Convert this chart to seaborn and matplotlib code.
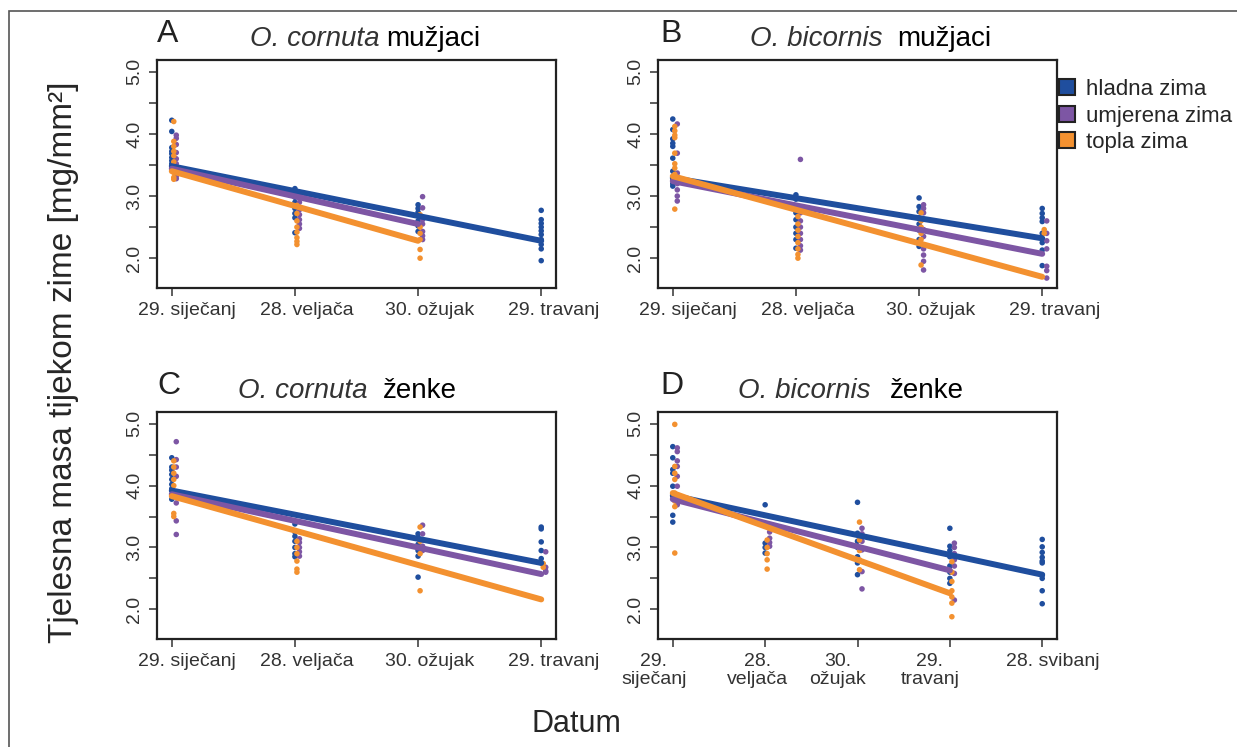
import numpy as np
import pandas as pd
import matplotlib
matplotlib.use("Agg")
import matplotlib.pyplot as plt
import matplotlib.transforms as mtransforms
from matplotlib.lines import Line2D
from matplotlib.patches import Rectangle
import seaborn as sns

groups = ["hladna zima", "umjerena zima", "topla zima"]
colors = ["#1f4e9e", "#7d56a4", "#f39130"]

dates_abc = ["29. siječanj", "28. veljača", "30. ožujak", "29. travanj"]
dates_d = ["29.\nsiječanj", "28.\nveljača", "30.\nožujak", "29.\ntravanj", "28. svibanj"]

# A - O. cornuta mužjaci (one list per date)
a_hladna = [
    [4.22, 4.04, 3.78, 3.72, 3.68, 3.62, 3.57, 3.52, 3.48, 3.45],
    [3.12, 3.05, 2.98, 2.90, 2.80, 2.72, 2.65, 2.41],
    [2.86, 2.80, 2.74, 2.68, 2.60, 2.52, 2.43],
    [2.77, 2.62, 2.56, 2.50, 2.44, 2.38, 2.30, 2.22, 2.15, 1.96],
]
a_umjerena = [
    [3.98, 3.93, 3.83, 3.70, 3.60, 3.52, 3.45, 3.38, 3.32, 3.28],
    [3.00, 2.90, 2.78, 2.70, 2.62, 2.55, 2.48],
    [2.99, 2.81, 2.62, 2.55, 2.43, 2.36, 2.30],
]
a_topla = [
    [4.20, 3.88, 3.80, 3.72, 3.65, 3.55, 3.45, 3.38, 3.30, 3.27],
    [2.85, 2.72, 2.60, 2.50, 2.42, 2.33, 2.27, 2.22],
    [2.70, 2.50, 2.40, 2.30, 2.14, 2.00],
]
a_fits = [[3.48, 2.28], [3.44, 2.55], [3.40, 2.28]]

# B - O. bicornis mužjaci
b_hladna = [
    [4.24, 4.07, 3.92, 3.85, 3.80, 3.61, 3.40, 3.26, 3.20, 3.16],
    [3.02, 2.95, 2.73, 2.62, 2.50, 2.40, 2.30, 2.16],
    [2.97, 2.83, 2.75, 2.65, 2.55, 2.45, 2.30, 2.19],
    [2.80, 2.72, 2.65, 2.59, 2.40, 2.25, 2.13, 1.88],
]
b_umjerena = [
    [4.16, 3.69, 3.37, 3.30, 3.20, 3.10, 3.00, 2.92],
    [3.59, 2.73, 2.60, 2.50, 2.40, 2.30, 2.20, 2.13],
    [2.86, 2.80, 2.73, 2.46, 2.35, 2.15, 2.05, 1.95, 1.81],
    [2.60, 2.40, 2.28, 2.15, 1.87, 1.80, 1.68],
]
b_topla = [
    [4.12, 4.05, 3.98, 3.94, 3.69, 3.52, 3.45, 3.35, 3.28, 2.79],
    [2.67, 2.55, 2.45, 2.35, 2.25, 2.15, 2.06, 2.00],
    [2.73, 2.60, 2.50, 2.40, 2.30, 1.89],
    [2.46, 2.40],
]
b_fits = [[3.29, 2.32], [3.24, 2.07], [3.32, 1.70]]

# C - O. cornuta ženke
c_hladna = [
    [4.45, 4.30, 4.25, 4.18, 4.10, 4.02, 3.95, 3.85, 3.78],
    [3.38, 3.25, 3.18, 3.10, 3.00, 2.90, 2.85],
    [3.22, 3.15, 3.05, 2.95, 2.86, 2.52],
    [3.33, 3.30, 3.09, 2.95, 2.82, 2.75],
]
c_umjerena = [
    [4.71, 4.42, 4.30, 4.15, 3.90, 3.72, 3.43, 3.21],
    [3.14, 3.08, 3.00, 2.93, 2.86],
    [3.36, 3.22, 3.12, 3.02, 2.95],
    [2.93, 2.68, 2.62, 2.60],
]
c_topla = [
    [4.40, 4.30, 4.20, 4.10, 4.00, 3.90, 3.55, 3.50],
    [3.10, 3.00, 2.90, 2.78, 2.65, 2.60],
    [3.33, 3.10, 3.00, 2.90, 2.30],
    [2.74, 2.68],
]
c_fits = [[3.92, 2.75], [3.86, 2.57], [3.83, 2.16]]

# D - O. bicornis ženke
d_hladna = [
    [4.63, 4.45, 4.26, 4.20, 3.99, 3.83, 3.52, 3.41],
    [3.69, 3.07, 3.00, 2.91],
    [3.73, 3.23, 3.10, 3.00, 2.85, 2.75, 2.56],
    [3.31, 3.02, 2.95, 2.85, 2.70, 2.60, 2.50, 2.42],
    [3.13, 3.01, 2.92, 2.84, 2.78, 2.75, 2.55, 2.50, 2.30, 2.09],
]
d_umjerena = [
    [4.61, 4.55, 4.40, 4.31, 4.15, 3.99, 3.85, 3.69],
    [3.34, 3.25, 3.15, 3.08, 3.02],
    [3.31, 3.22, 3.10, 2.96, 2.61, 2.33],
    [3.07, 3.00, 2.90, 2.80, 2.70, 2.58, 2.15],
]
d_topla = [
    [4.99, 4.31, 4.20, 4.10, 3.88, 3.75, 3.66, 2.91],
    [3.12, 3.00, 2.90, 2.80, 2.65],
    [3.41, 3.12, 2.95, 2.80, 2.64],
    [2.77, 2.60, 2.45, 2.30, 2.20, 2.10, 1.88],
]
d_fits = [[3.84, 2.56], [3.78, 2.63], [3.88, 2.26]]


sns.set_style("ticks")
plt.rcParams['font.family'] = ['Liberation Sans', 'DejaVu Sans']

W, H = 1237, 747
fig = plt.figure(figsize=(W / 100, H / 100), dpi=100)
renderer = fig.canvas.get_renderer()

# small horizontal offset of each group's dots, in pixels
dot_shift = {"hladna zima": 0.0, "umjerena zima": 4.5, "topla zima": 2.0}


def to_frames(series, fits):
    pts, lines = [], []
    for g, s, f in zip(groups, series, fits):
        for d, vals in enumerate(s):
            for v in vals:
                pts.append((g, d, v))
        lines.append((g, 0, f[0]))
        lines.append((g, len(s) - 1, f[1]))
    cols = ["grupa", "datum", "masa"]
    return pd.DataFrame(pts, columns=cols), pd.DataFrame(lines, columns=cols)


def panel(rect, series, fits, labels, label_shift):
    ax = fig.add_axes(rect)
    n = len(labels)
    xmin, xmax = -0.04 * (n - 1), (n - 1) * 1.04
    per_px = (xmax - xmin) / (rect[2] * W)

    pts, lines = to_frames(series, fits)
    pts["x"] = pts["datum"] + pts["grupa"].map(dot_shift) * per_px

    sns.scatterplot(data=pts, x="x", y="masa", hue="grupa", hue_order=groups,
                    palette=colors, s=16, linewidth=0, legend=False, ax=ax)
    sns.lineplot(data=lines, x="datum", y="masa", hue="grupa", hue_order=groups,
                 palette=colors, lw=4.3, estimator=None, legend=False, ax=ax)

    ax.set_xlim(xmin, xmax)
    ax.set_ylim(1.52, 5.19)
    ax.set_xticks(range(n))
    ax.set_xticklabels(labels, fontsize=14, color="#333333", linespacing=1.05)
    yt = np.arange(2.0, 5.01, 0.5)
    ax.set_yticks(yt)
    ax.set_yticklabels([f"{v:.1f}" if v == int(v) else "" for v in yt],
                       fontsize=14, color="#333333")
    plt.setp(ax.get_yticklabels(), rotation=90, va="center")
    ax.tick_params(direction="out", length=6, width=1.1, color="#333333", pad=4)
    for sp in ax.spines.values():
        sp.set_visible(True)
        sp.set_linewidth(1.6)
        sp.set_color("#222222")
    ax.set_xlabel("")
    ax.set_ylabel("")

    for lab, dx in zip(ax.get_xticklabels(), label_shift):
        off = mtransforms.ScaledTranslation(dx / 100, 0, fig.dpi_scale_trans)
        lab.set_transform(lab.get_transform() + off)
    return ax


def fy(py):
    return 1 - py / H


def title(x_px, y_px, species, sex, gap_px):
    t1 = fig.text(x_px / W, fy(y_px), species, fontsize=20, style="italic",
                  color="#333333", ha="left", va="baseline")
    w1 = t1.get_window_extent(renderer).width
    fig.text((x_px + w1 + gap_px) / W, fy(y_px), sex, fontsize=20,
             color="black", ha="left", va="baseline")


panel([157 / W, fy(288), 399 / W, 228 / H],
      [a_hladna, a_umjerena, a_topla], a_fits, dates_abc, [15, 12, 12, 12])
panel([658 / W, fy(288), 399 / W, 228 / H],
      [b_hladna, b_umjerena, b_topla], b_fits, dates_abc, [15, 12, 12, 12])
panel([157 / W, fy(639), 399 / W, 227 / H],
      [c_hladna, c_umjerena, c_topla], c_fits, dates_abc, [15, 12, 12, 12])
panel([658 / W, fy(639), 399 / W, 227 / H],
      [d_hladna, d_umjerena, d_topla], d_fits, dates_d, [-19, -8, -20, -20, 11])

# panel letters and titles
for letter, x, y in [("A", 157, 42), ("B", 660, 42), ("C", 157, 394), ("D", 660, 394)]:
    fig.text(x / W, fy(y), letter, fontsize=23, ha="left", va="baseline", color="#222222")

title(250, 46, "O. cornuta", "mužjaci", 7)
title(750, 46, "O. bicornis", "mužjaci", 15)
title(238, 398, "O. cornuta", "ženke", 15)
title(738, 398, "O. bicornis", "ženke", 19)

fig.text(64 / W, fy(362), "Tjelesna masa tijekom zime [mg/mm²]", fontsize=24,
         rotation=90, ha="center", va="center")
fig.text(576 / W, fy(724), "Datum", fontsize=22, ha="center", va="center")

handles = [Line2D([], [], marker="s", ls="", mfc=c, mec="#222222", mew=1.5, ms=11)
           for c in colors]
fig.legend(handles, groups, loc="upper left", bbox_to_anchor=(1058 / W, fy(79)),
           frameon=False, fontsize=16, borderpad=0, borderaxespad=0,
           handlelength=0.8, handletextpad=0.45, labelspacing=0.25)

fig.add_artist(Rectangle((9 / W, -0.1), 1.2, fy(11) + 0.1, transform=fig.transFigure,
                         fill=False, ec="#555555", lw=1.2))

fig.savefig("out.png", dpi=100)
